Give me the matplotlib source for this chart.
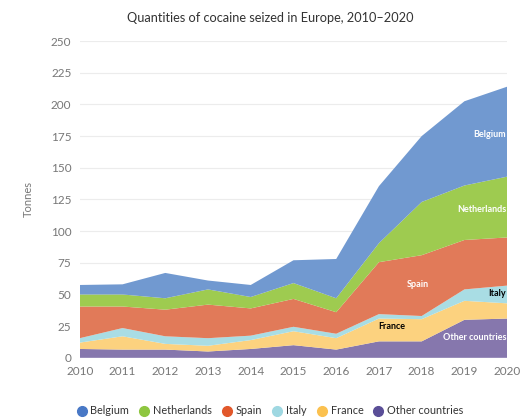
import matplotlib.pyplot as plt
from matplotlib.lines import Line2D

plt.rcParams['font.family'] = ['Lato', 'DejaVu Sans']

years = [2010, 2011, 2012, 2013, 2014, 2015, 2016, 2017, 2018, 2019, 2020]

# stacked values (tonnes)
other = [7, 6.5, 6.5, 5, 7, 10, 6.5, 13, 13, 30, 31]
france = [5, 10.5, 4.5, 4.5, 7, 11, 9, 18, 17.5, 15, 12]
italy = [3.5, 6.5, 6, 6, 3.5, 3.5, 3.5, 3.5, 2.5, 9, 14]
spain = [25, 17, 21, 26.5, 21.5, 22, 17, 41, 48, 39, 38]
netherlands = [9.5, 9.5, 9, 12, 9, 12.5, 11, 15, 42, 43, 48]
belgium = [7.5, 8, 20, 7, 9.5, 18, 31, 45, 52, 66.5, 71]

names = ['Other countries', 'France', 'Italy', 'Spain', 'Netherlands', 'Belgium']
area_colors = ['#8677ad', '#fcd27f', '#a9dde4', '#e17a59', '#9ecb50', '#7199d0']
legend_colors = ['#5a4e97', '#fbc14f', '#9fd8e2', '#e2582b', '#8ec640', '#4878c6']

fig = plt.figure(figsize=(5.25, 4.19), dpi=100)
ax = fig.add_axes([0.152, 0.146, 0.814, 0.756])

ax.stackplot(years, other, france, italy, spain, netherlands, belgium,
             colors=area_colors, linewidth=0)

ax.set_xlim(2010, 2020)
ax.set_ylim(0, 250)
ax.set_yticks(range(0, 251, 25))
ax.set_xticks(years)
ax.grid(axis='y', color='#ececec', linewidth=0.8)
ax.set_axisbelow(True)
for s in ax.spines.values():
    s.set_visible(False)
ax.tick_params(length=0, labelsize=8.5, colors='#777777', pad=6)
ax.set_ylabel('Tonnes', fontsize=8, color='#777777', labelpad=12)
fig.text(0.514, 0.957, 'Quantities of cocaine seized in Europe, 2010–2020', fontsize=9.2,
         color='#333333', ha='center', va='center')

ax.text(2019.98, 176, 'Belgium', color='white', fontsize=6.5, fontweight='bold', ha='right', va='center')
ax.text(2019.98, 117, 'Netherlands', color='white', fontsize=6.5, fontweight='bold', ha='right', va='center')
ax.text(2017.9, 58, 'Spain', color='white', fontsize=6.5, fontweight='bold', ha='center', va='center')
ax.text(2019.98, 51, 'Italy', color='black', fontsize=6.5, fontweight='bold', ha='right', va='center')
ax.text(2017.3, 24.5, 'France', color='black', fontsize=6.5, fontweight='bold', ha='center', va='center')
ax.text(2019.98, 16, 'Other countries', color='white', fontsize=6.5, fontweight='bold', ha='right', va='center')

handles = [Line2D([], [], marker='o', linestyle='', markersize=7, color=c)
           for c in legend_colors[::-1]]
fig.legend(handles, names[::-1], loc='lower center', bbox_to_anchor=(0.514, -0.017), ncol=6,
           frameon=False, fontsize=7.8, handlelength=1, handletextpad=0.3, columnspacing=0.9,
           labelcolor='#333333')

fig.savefig('out.png', dpi=100)
